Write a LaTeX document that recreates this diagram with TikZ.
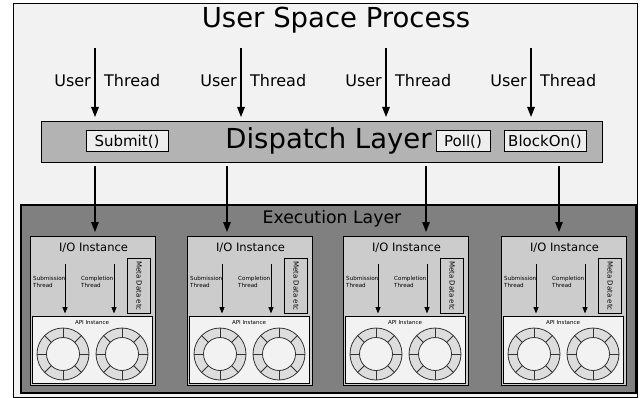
\documentclass[tikz,border=0pt]{standalone}
\usepackage{fontspec}
\setmainfont{DejaVu Sans}
\usetikzlibrary{arrows.meta,calc}
\definecolor{shell}{HTML}{F2F2F2}
\definecolor{dispfill}{HTML}{B3B3B3}
\definecolor{callfill}{HTML}{EEEEEE}
\definecolor{execfill}{HTML}{808080}
\definecolor{iofill}{HTML}{CCCCCC}
\definecolor{ringfill}{HTML}{DDDDDD}
\tikzset{
  box/.style={draw=black,line width=1.3pt,inner sep=0pt,anchor=north west},
  flow/.style={-{Triangle[length=10pt,width=7.5pt]},line width=1.4pt},
  subflow/.style={-{Triangle[length=6.5pt,width=5pt]},line width=0.9pt},
  call/.style={draw=black,fill=callfill,line width=1pt,minimum height=21pt,inner sep=0pt,
    font=\fontsize{15}{15}\selectfont},
  tiny/.style={inner sep=0pt,font=\fontsize{5.6}{7}\selectfont,align=left,anchor=north west},
  threadlabel/.style={inner sep=0pt,font=\fontsize{16}{16}\selectfont}
}
\begin{document}
\begin{tikzpicture}[x=1pt,y=-1pt]
  \useasboundingbox (0,0) rectangle (644,398);
  \node[box,fill=shell,minimum width=624pt,minimum height=394pt] (proc) at (13,3) {};
  \node[anchor=base,font=\fontsize{27.5}{27.5}\selectfont] (title) at (336,28) {User Space Process};
  \node[box,fill=dispfill,line width=1pt,minimum width=561pt,minimum height=41pt] (disp) at (41,121) {};
  \node[anchor=base,font=\fontsize{27.5}{27.5}\selectfont] (displabel) at (328.5,149) {Dispatch Layer};
  \node[call,minimum width=82pt] (submit) at (127,141.5) {Submit()};
  \node[call,minimum width=54pt] (poll) at (463,141.5) {Poll()};
  \node[call,minimum width=82pt] (block) at (545,141.5) {BlockOn()};
  \node[box,fill=execfill,line width=1.8pt,minimum width=615pt,minimum height=188pt] (exec) at (20,204) {};
  \node[anchor=base,font=\fontsize{17.3}{17.3}\selectfont] (execlabel) at (332,223) {Execution Layer};
  \foreach \x/\i in {95/1,241/2,386/3,531/4}{
    \coordinate (u\i) at (\x,48);
    \node[threadlabel,anchor=base east] (user\i) at (\x-4,87) {User};
    \node[threadlabel,anchor=base west] (thread\i) at (\x+9,87) {Thread};
    \draw[flow,shorten >=4pt] (u\i) -- (u\i |- disp.north);
  }
  \foreach \x/\i in {30/1,187/2,343/3,501/4}{
    \node[box,fill=iofill,minimum width=125pt,minimum height=149pt] (io\i) at (\x,236) {};
    \node[anchor=base,font=\fontsize{11.5}{11.5}\selectfont] (iolabel\i) at (\x+63.5,251.7) {I/O Instance};
    \node[box,fill=iofill,line width=1pt,minimum width=23pt,minimum height=55pt] (meta\i) at (\x+97,258) {};
    \node[rotate=-90,inner sep=0pt,font=\fontsize{7}{7}\selectfont] at (meta\i.center) {Meta Data etc};
    \node[box,fill=shell,line width=1pt,minimum width=120pt,minimum height=67pt] (api\i) at (\x+2,316) {};
    \node[inner sep=0pt,font=\fontsize{5.5}{5.5}\selectfont] (apilabel\i) at (\x+62,323) {API Instance};
    \node[tiny] (sublabel\i) at (\x+3,276.5) {Submission\\Thread};
    \node[tiny] (complabel\i) at (\x+51,276.5) {Completion\\Thread};
    \coordinate (s\i) at (\x+35,264);
    \coordinate (c\i) at (\x+84,264);
    \draw[subflow,shorten >=2.5pt] (s\i) -- (s\i |- api\i.north);
    \draw[subflow,shorten >=2.5pt] (c\i) -- (c\i |- api\i.north);
    \foreach \r in {33,92}{
      \coordinate (ring) at (\x+\r,354);
      \fill[ringfill,even odd rule] (ring) circle[radius=26pt] (ring) circle[radius=16.5pt];
      \draw[black!80,line width=0.8pt] (ring) circle[radius=26pt] (ring) circle[radius=16.5pt];
      \foreach \a in {0,45,...,315}
        \draw[black!80,line width=0.8pt] ($(ring)+(\a:16.5pt)$) -- ($(ring)+(\a:26pt)$);
    }
  }
  \foreach \x/\i in {95/1,227/2,426/3,559/4}{
    \coordinate (d\i) at (\x,166);
    \draw[flow,shorten >=4pt] (d\i) -- (d\i |- io\i.north);
  }
\end{tikzpicture}
\end{document}
